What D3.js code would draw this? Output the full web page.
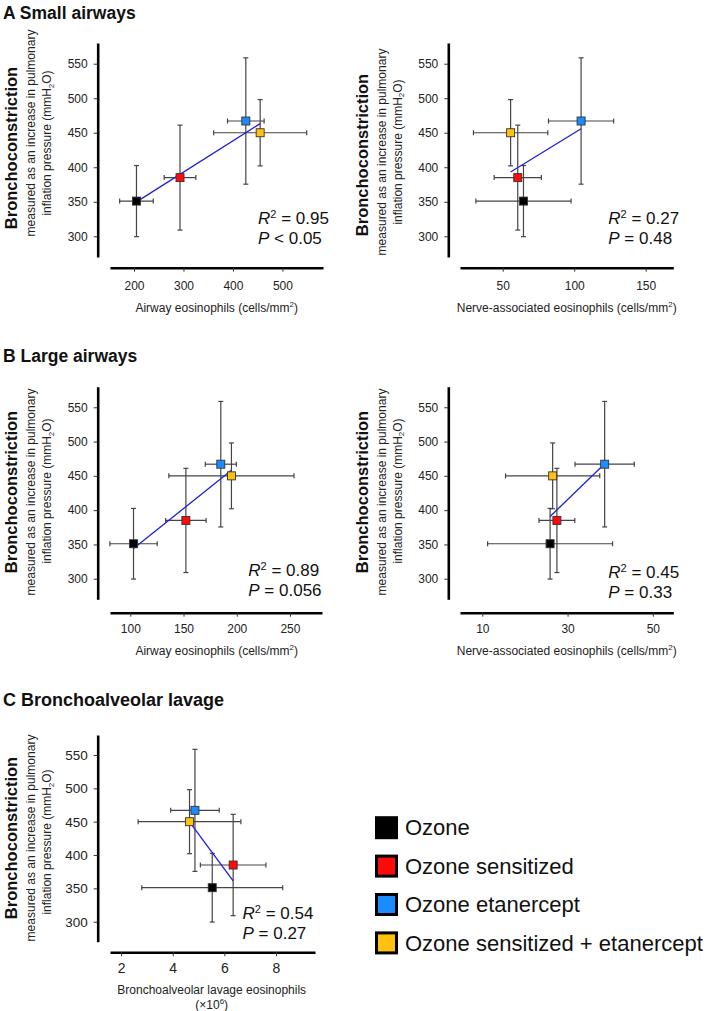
<!DOCTYPE html>
<html>
<head>
<meta charset="utf-8">
<script src="https://cdn.jsdelivr.net/npm/d3@7"></script>
<style>
  html, body { margin: 0; padding: 0; background: #fff; }
  svg { display: block; font-family: "Liberation Sans", Arial, sans-serif; }
</style>
</head>
<body>
<svg id="chart" width="709" height="1011"></svg>
<script>
// ---------------- DATA ----------------
const groups = ["Ozone", "Ozone sensitized", "Ozone etanercept", "Ozone sensitized + etanercept"];
const groupColors = ["#000000", "#ff0a0a", "#1a8cff", "#ffc20e"];

// Bronchoconstriction (mmH2O), mean and error
const pressure = [351, 385, 467, 450];
const pressureErr = [51.5, 76, 91.5, 48];
const yTicks = [300, 350, 400, 450, 500, 550];

// A: small airways
const smallAirwayEos = [205, 293, 426, 455];
const smallAirwayEosErr = [34, 32, 37, 94];
const smallNerveEos = [64.5, 60.5, 104.8, 55.5];
const smallNerveEosErr = [33.3, 16.5, 22.8, 26];
// B: large airways
const largeAirwayEos = [103, 152.2, 185, 195];
const largeAirwayEosErr = [22.2, 19, 14.6, 58.8];
const largeNerveEos = [25.9, 27.5, 38.7, 26.5];
const largeNerveEosErr = [14.65, 4.2, 6.95, 11.05];
// C: BAL
const balEos = [5.53, 6.34, 4.86, 4.65];
const balEosErr = [2.73, 1.27, 0.94, 1.99];

const smallAirwayTicks = [200, 300, 400, 500];
const smallNerveTicks = [50, 100, 150];
const largeAirwayTicks = [100, 150, 200, 250];
const largeNerveTicks = [10, 30, 50];
const balTicks = [2, 4, 6, 8];

const r2Values = ["0.95", "0.27", "0.89", "0.45", "0.54"];
const pValues = ["< 0.05", "= 0.48", "= 0.056", "= 0.33", "= 0.27"];
const sectionTitles = ["A Small airways", "B Large airways", "C Bronchoalveolar lavage"];

// ---------------- LAYOUT ----------------
const svg = d3.select("#chart");
const yDomain = [270, 580];

const panels = [
  { x: smallAirwayEos, xe: smallAirwayEosErr, xDomain: [151.5, 582], xTicks: smallAirwayTicks,
    left: 110, right: 323, yAxisX: 97.7, top: 43, bottom: 257, xAxisY: 267.7, xPad: 10,
    xLabel: "Airway eosinophils (cells/mm", xLabelY: 308, xLabelX: 216.7,
    stat: 0, statX: 258, statY: 218, tickFont: 12, xTickFont: 12, titleC: [148, 133, 143] },
  { x: smallNerveEos, xe: smallNerveEosErr, xDomain: [20.1, 169.3], xTicks: smallNerveTicks,
    left: 460, right: 673.3, yAxisX: 448.3, top: 43, bottom: 257, xAxisY: 267.7, xPad: 10,
    xLabel: "Nerve-associated eosinophils (cells/mm", xLabelY: 308, xLabelX: 566.7,
    stat: 1, statX: 608.3, statY: 218, tickFont: 12, xTickFont: 12, titleC: [155, 152, 152] },
  { x: largeAirwayEos, xe: largeAirwayEosErr, xDomain: [80.9, 280.1], xTicks: largeAirwayTicks,
    left: 110, right: 322, yAxisX: 97.7, top: 386.7, bottom: 599.3, xAxisY: 612.7, xPad: 7.5,
    xLabel: "Airway eosinophils (cells/mm", xLabelY: 651, xLabelX: 216.7,
    stat: 2, statX: 248.3, statY: 570, tickFont: 12, xTickFont: 12, titleC: [492, 492, 491] },
  { x: largeNerveEos, xe: largeNerveEosErr, xDomain: [4.77, 54.8], xTicks: largeNerveTicks,
    left: 460, right: 673.3, yAxisX: 448.3, top: 386.7, bottom: 599.3, xAxisY: 612.7, xPad: 7.5,
    xLabel: "Nerve-associated eosinophils (cells/mm", xLabelY: 651, xLabelX: 566.7,
    stat: 3, statX: 608.3, statY: 572.3, tickFont: 12, xTickFont: 12, titleC: [492, 492, 491] },
  { x: balEos, xe: balEosErr, xDomain: [1.57, 9.51], xTicks: balTicks,
    left: 110, right: 315, yAxisX: 97.7, top: 735, bottom: 941.7, xAxisY: 952.3, xPad: 7,
    xLabel: null, xLabelY: 990, xLabelX: 211.7,
    stat: 4, statX: 242.5, statY: 913, tickFont: 13.5, xTickFont: 14, titleC: [838, 838, 842] }
];

// Section titles
const titleYs = [19, 361.5, 705.5];
svg.selectAll("text.section").data(sectionTitles).enter().append("text")
  .attr("class", "section")
  .attr("x", 3).attr("y", (d, i) => titleYs[i])
  .attr("font-size", (d, i) => i === 2 ? 18 : 17.5).attr("font-weight", "bold").attr("fill", "#111")
  .text(d => d);

panels.forEach(p => {
  const g = svg.append("g");
  const xS = d3.scaleLinear().domain(p.xDomain).range([p.left, p.right]);
  const yS = d3.scaleLinear().domain(yDomain).range([p.bottom, p.top]);

  // Y axis
  const ya = g.append("g").attr("transform", `translate(${p.yAxisX},0)`)
    .call(d3.axisLeft(yS).tickValues(yTicks).tickSize(4).tickSizeOuter(0).tickPadding(6));
  ya.select(".domain").attr("stroke", "#000").attr("stroke-width", 2.6);
  ya.selectAll(".tick line").attr("stroke", "#333").attr("stroke-width", 1);
  ya.selectAll(".tick text").attr("font-size", p.tickFont).attr("fill", "#222")
    .attr("font-family", "Liberation Sans, Arial, sans-serif");

  // X axis
  const xa = g.append("g").attr("transform", `translate(0,${p.xAxisY})`)
    .call(d3.axisBottom(xS).tickValues(p.xTicks).tickSize(4).tickSizeOuter(0).tickPadding(p.xPad));
  xa.select(".domain").attr("stroke", "#000").attr("stroke-width", 2.6);
  xa.selectAll(".tick line").attr("stroke", "#333").attr("stroke-width", 1);
  xa.selectAll(".tick text").attr("font-size", p.xTickFont).attr("fill", "#222")
    .attr("font-family", "Liberation Sans, Arial, sans-serif");

  // Y title (three lines)
  const yt = [p.yAxisX - 86, p.yAxisX - 66.5, p.yAxisX - 51];
  g.append("text").attr("transform", `translate(${yt[0]},${p.titleC[0]}) rotate(-90)`)
    .attr("text-anchor", "middle").attr("dy", "0.35em")
    .attr("font-size", 16.5).attr("font-weight", "bold").attr("fill", "#111")
    .text("Bronchoconstriction");
  g.append("text").attr("transform", `translate(${yt[1]},${p.titleC[1]}) rotate(-90)`)
    .attr("text-anchor", "middle").attr("dy", "0.35em")
    .attr("font-size", 12).attr("fill", "#222")
    .text("measured as an increase in pulmonary");
  const t3 = g.append("text").attr("transform", `translate(${yt[2]},${p.titleC[2]}) rotate(-90)`)
    .attr("text-anchor", "middle").attr("dy", "0.35em")
    .attr("font-size", 12).attr("fill", "#222");
  t3.append("tspan").text("inflation pressure (mmH");
  t3.append("tspan").attr("font-size", 8).attr("dy", 3).text("2");
  t3.append("tspan").attr("dy", -3).text("O)");

  // X label
  if (p.xLabel) {
    const xl = g.append("text").attr("x", p.xLabelX).attr("y", p.xLabelY).attr("dy", "0.35em")
      .attr("text-anchor", "middle").attr("font-size", 12).attr("fill", "#222");
    xl.append("tspan").text(p.xLabel);
    xl.append("tspan").attr("font-size", 8).attr("dy", -5).text("2");
    xl.append("tspan").attr("dy", 5).text(")");
  } else {
    g.append("text").attr("x", p.xLabelX).attr("y", p.xLabelY).attr("dy", "0.35em")
      .attr("text-anchor", "middle").attr("font-size", 12).attr("fill", "#222")
      .text("Bronchoalveolar lavage eosinophils");
    const xl2 = g.append("text").attr("x", p.xLabelX).attr("y", p.xLabelY + 14.5).attr("dy", "0.35em")
      .attr("text-anchor", "middle").attr("font-size", 12).attr("fill", "#222");
    xl2.append("tspan").text("(×10");
    xl2.append("tspan").attr("font-size", 8).attr("dy", -5).text("6");
    xl2.append("tspan").attr("dy", 5).text(")");
  }

  const idx = d3.range(groups.length);
  const capW = 2.5;
  const eb = "#444";
  // vertical error bars
  idx.forEach(i => {
    const cx = xS(p.x[i]);
    const y1 = yS(pressure[i] - pressureErr[i]), y2 = yS(pressure[i] + pressureErr[i]);
    g.append("line").attr("x1", cx).attr("x2", cx).attr("y1", y1).attr("y2", y2)
      .attr("stroke", eb).attr("stroke-width", 1.2);
    [y1, y2].forEach(yy => g.append("line").attr("x1", cx - capW).attr("x2", cx + capW)
      .attr("y1", yy).attr("y2", yy).attr("stroke", eb).attr("stroke-width", 1.2));
    const cy = yS(pressure[i]);
    const x1 = xS(p.x[i] - p.xe[i]), x2 = xS(p.x[i] + p.xe[i]);
    g.append("line").attr("x1", x1).attr("x2", x2).attr("y1", cy).attr("y2", cy)
      .attr("stroke", eb).attr("stroke-width", 1.2);
    [x1, x2].forEach(xx => g.append("line").attr("x1", xx).attr("x2", xx)
      .attr("y1", cy - capW).attr("y2", cy + capW).attr("stroke", eb).attr("stroke-width", 1.2));
  });

  // regression line
  const mx = d3.mean(p.x), my = d3.mean(pressure);
  const sxy = d3.sum(idx, i => (p.x[i] - mx) * (pressure[i] - my));
  const sxx = d3.sum(idx, i => (p.x[i] - mx) ** 2);
  const slope = sxy / sxx, icpt = my - slope * mx;
  const [xmin, xmax] = d3.extent(p.x);
  g.append("line")
    .attr("x1", xS(xmin)).attr("y1", yS(icpt + slope * xmin))
    .attr("x2", xS(xmax)).attr("y2", yS(icpt + slope * xmax))
    .attr("stroke", "#1f1fd6").attr("stroke-width", 1.3);

  // markers
  const ms = 8;
  g.selectAll("rect.pt").data(idx).enter().append("rect").attr("class", "pt")
    .attr("x", i => xS(p.x[i]) - ms / 2).attr("y", i => yS(pressure[i]) - ms / 2)
    .attr("width", ms).attr("height", ms)
    .attr("fill", i => groupColors[i]).attr("stroke", "#333").attr("stroke-width", 0.9);

  // stats
  const st = g.append("text").attr("x", p.statX).attr("y", p.statY).attr("dy", "0.35em")
    .attr("font-size", 17).attr("fill", "#111");
  st.append("tspan").attr("font-style", "italic").text("R");
  st.append("tspan").attr("font-size", 11).attr("dy", -6).text("2");
  st.append("tspan").attr("dy", 6).text(" = " + r2Values[p.stat]);
  const sp = g.append("text").attr("x", p.statX).attr("y", p.statY + 20).attr("dy", "0.35em")
    .attr("font-size", 17).attr("fill", "#111");
  sp.append("tspan").attr("font-style", "italic").text("P");
  sp.append("tspan").text(" " + pValues[p.stat]);
});

// Legend
const lg = svg.append("g");
groups.forEach((name, i) => {
  const cy = 827.7 + i * 38.4;
  lg.append("rect").attr("x", 376.5).attr("y", cy - 10).attr("width", 20).attr("height", 20)
    .attr("fill", groupColors[i]).attr("stroke", "#000").attr("stroke-width", 3);
  lg.append("text").attr("x", 405).attr("y", cy).attr("dy", "0.35em")
    .attr("font-size", 22).attr("fill", "#111").text(name);
});
</script>
</body>
</html>
